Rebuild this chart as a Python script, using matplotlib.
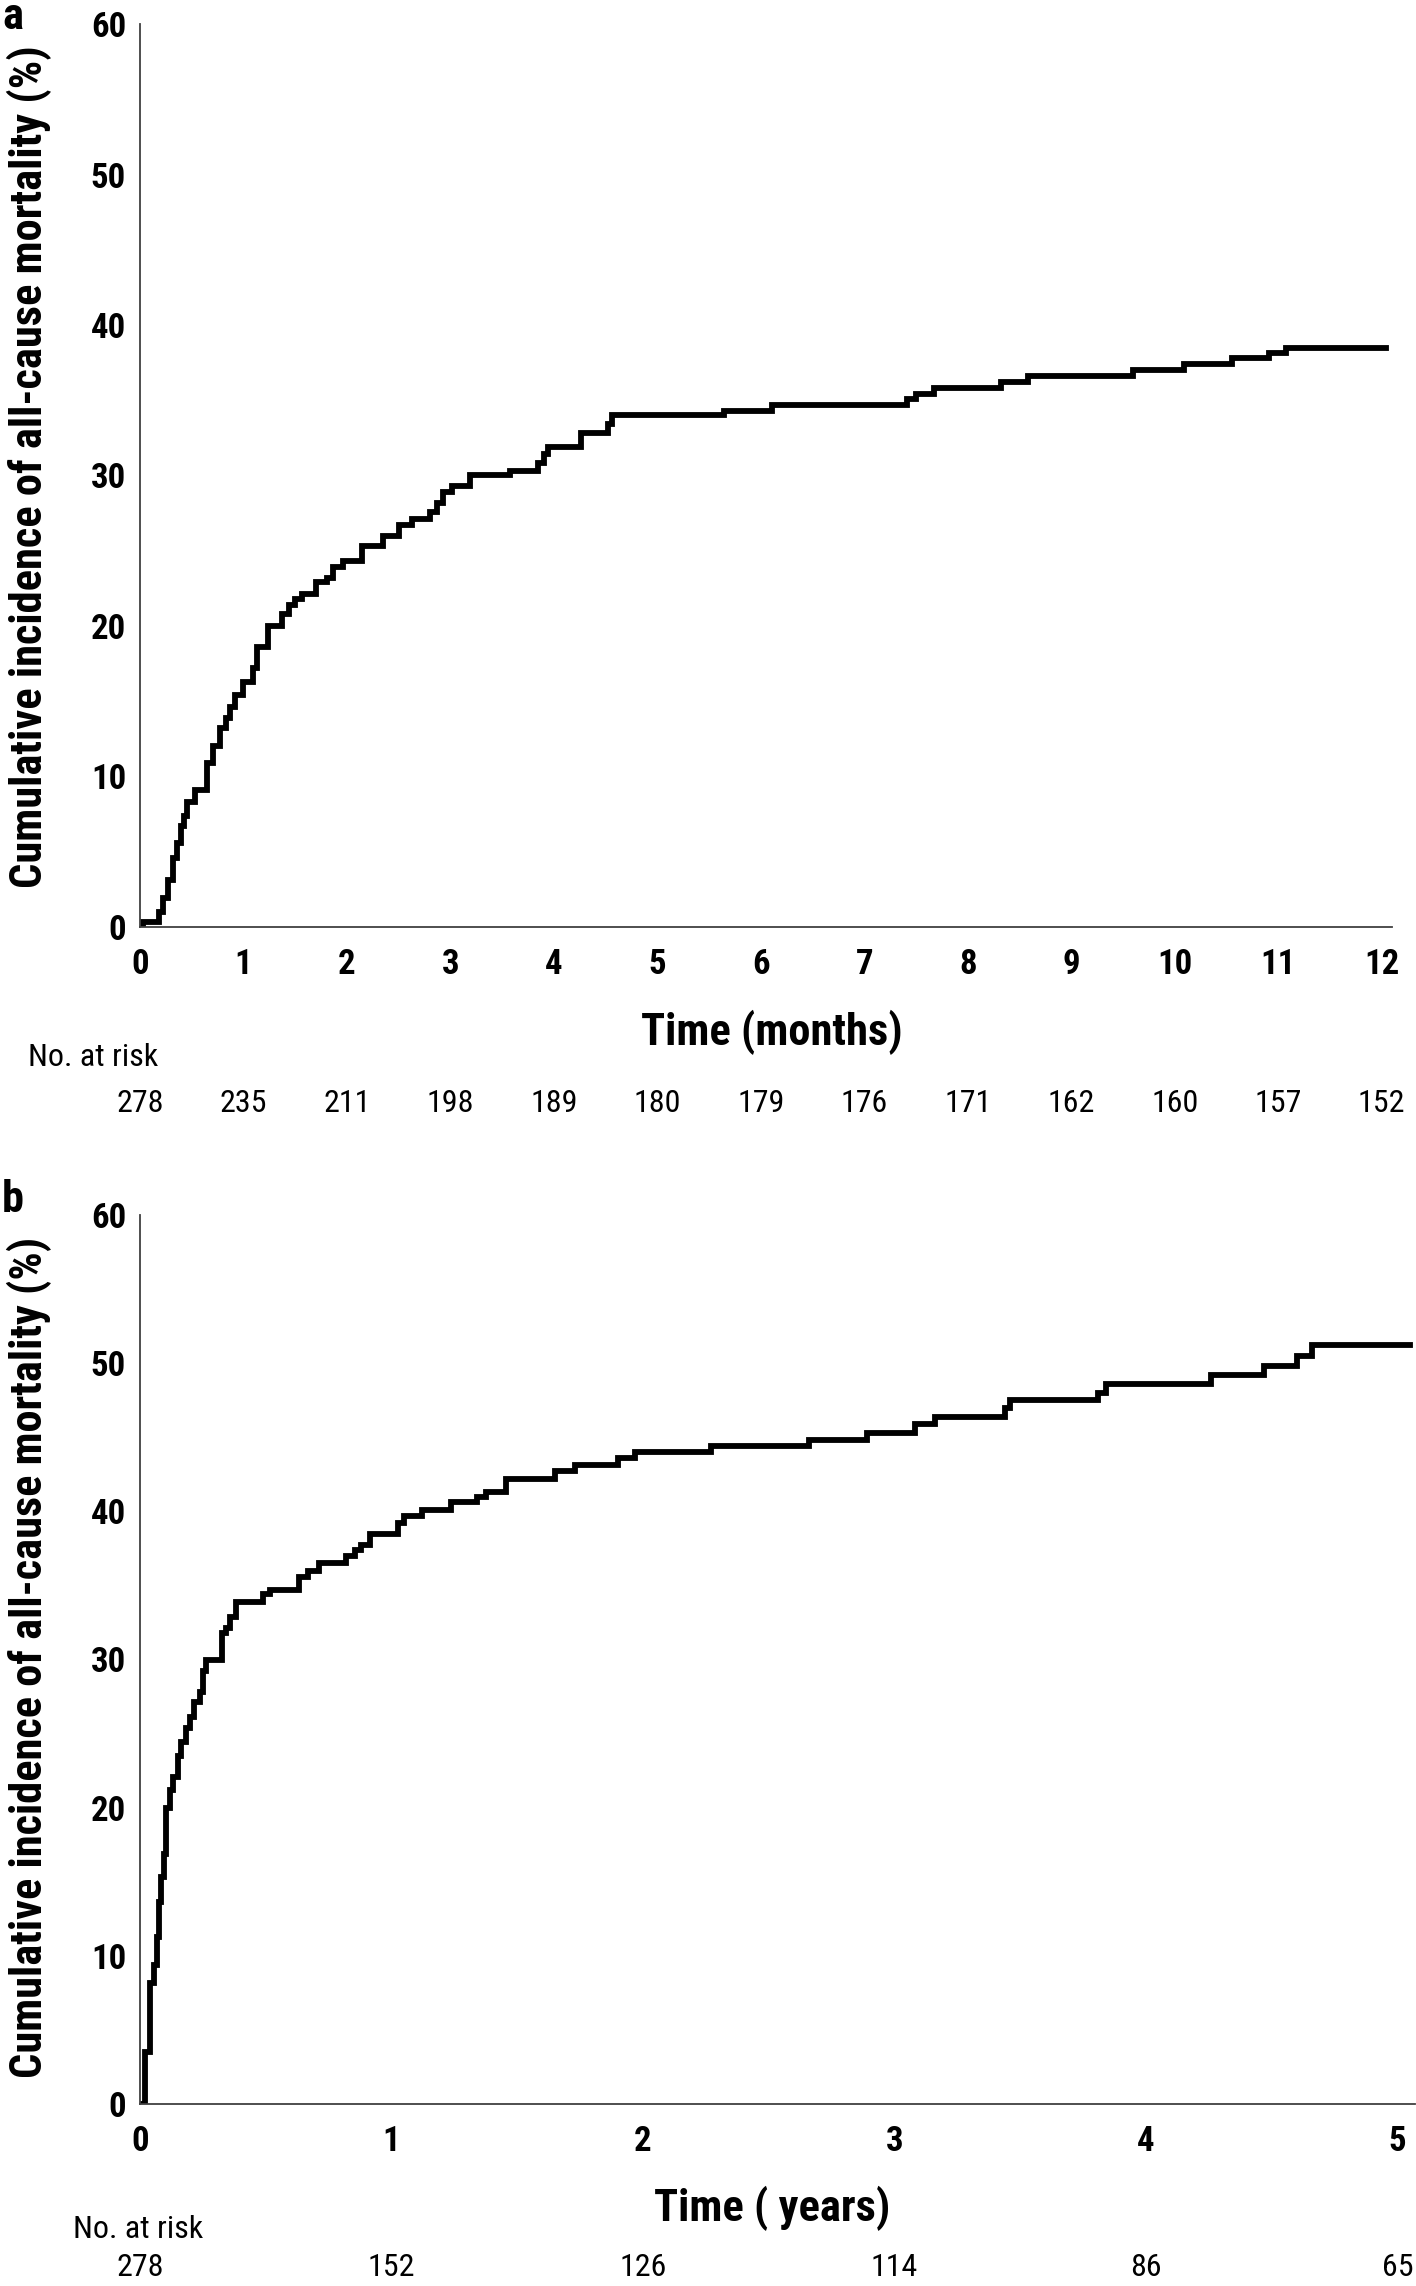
import matplotlib
matplotlib.use("Agg")
import matplotlib.pyplot as plt
from matplotlib.transforms import blended_transform_factory

plt.rcParams['font.family'] = ['Roboto Condensed', 'Lato', 'DejaVu Sans']

# Panel a: first year, months
months_a = [0, 0.03, 0.18, 0.225, 0.27, 0.32, 0.355, 0.40, 0.43, 0.45,
            0.53, 0.645, 0.71, 0.77, 0.83, 0.87, 0.92, 1.0, 1.09, 1.13,
            1.24, 1.37, 1.44, 1.50, 1.57, 1.70, 1.81, 1.87, 1.96, 2.15,
            2.35, 2.50, 2.63, 2.80, 2.87, 2.93, 3.02, 3.19, 3.58, 3.85,
            3.90, 3.94, 4.26, 4.52, 4.56, 5.64, 6.11, 7.41, 7.50, 7.67,
            8.32, 8.58, 9.60, 10.09, 10.55, 10.91, 11.08, 12.04]
incidence_a = [0, 0.3, 1.0, 1.9, 3.1, 4.6, 5.6, 6.7, 7.4, 8.3,
               9.1, 10.9, 12.0, 13.2, 13.9, 14.6, 15.4, 16.3, 17.2, 18.6,
               20.0, 20.8, 21.4, 21.8, 22.1, 22.9, 23.2, 23.9, 24.3, 25.3,
               26.0, 26.7, 27.1, 27.6, 28.2, 28.9, 29.3, 30.0, 30.3, 30.8,
               31.4, 31.9, 32.8, 33.4, 34.0, 34.3, 34.7, 35.1, 35.4, 35.8,
               36.2, 36.6, 37.0, 37.4, 37.8, 38.15, 38.5, 38.5]
ticks_a = list(range(0, 13))
at_risk_a = [278, 235, 211, 198, 189, 180, 179, 176, 171, 162, 160, 157, 152]

# Panel b: five years
years_b = [0, 0.021, 0.039, 0.057, 0.066, 0.074, 0.083, 0.097, 0.105, 0.119,
           0.133, 0.151, 0.163, 0.181, 0.198, 0.216, 0.237, 0.252, 0.264, 0.326,
           0.340, 0.358, 0.381, 0.491, 0.517, 0.632, 0.668, 0.712, 0.818, 0.854,
           0.880, 0.916, 1.027, 1.049, 1.120, 1.235, 1.341, 1.376, 1.456, 1.651,
           1.731, 1.899, 1.970, 2.27, 2.66, 2.89, 3.08, 3.16, 3.44, 3.46,
           3.81, 3.84, 4.26, 4.47, 4.60, 4.66, 5.05]
incidence_b = [0, 3.5, 8.2, 9.4, 11.3, 13.6, 15.3, 16.9, 20.0, 21.2,
               22.1, 23.5, 24.4, 25.4, 26.1, 27.1, 27.8, 29.2, 30.0, 31.8,
               32.1, 32.9, 33.9, 34.4, 34.7, 35.6, 36.0, 36.5, 37.0, 37.4,
               37.75, 38.5, 39.2, 39.7, 40.1, 40.6, 41.0, 41.3, 42.2, 42.7,
               43.1, 43.6, 44.0, 44.4, 44.8, 45.3, 45.9, 46.4, 47.0, 47.5,
               48.0, 48.6, 49.2, 49.8, 50.5, 51.2, 51.2]
ticks_b = list(range(0, 6))
at_risk_b = [278, 152, 126, 114, 86, 65]

W, H = 1416, 2286
fig = plt.figure(figsize=(W / 100, H / 100), dpi=100)
renderer = fig.canvas.get_renderer()

ylab = "Cumulative incidence of all-cause mortality (%)"


def fit_text(t, target_px, horizontal=True):
    # shrink a text so its drawn length matches the reference
    bb = t.get_window_extent(renderer)
    size = bb.width if horizontal else bb.height
    if size > target_px:
        t.set_fontsize(t.get_fontsize() * target_px / size)


def panel(rect, t, y, xmax, ticks, risk, xlabel, letter, letter_y,
          xlab_y, risk_lab_x, risk_lab_y, risk_y, ylab_y, ylab_len):
    ax = fig.add_axes(rect)
    ax.step(t, y, where="post", color="black", lw=4.2, solid_joinstyle="miter")
    ax.set_xlim(0, xmax)
    ax.set_ylim(0, 60)
    ax.set_xticks(ticks)
    ax.set_yticks(range(0, 61, 10))
    for s in ["top", "right"]:
        ax.spines[s].set_visible(False)
    for s in ["left", "bottom"]:
        ax.spines[s].set_color("#404040")
        ax.spines[s].set_linewidth(1.3)
    ax.tick_params(length=0, labelsize=25)
    ax.tick_params(axis="x", pad=15)
    ax.tick_params(axis="y", pad=10)
    for lbl in ax.get_xticklabels() + ax.get_yticklabels():
        lbl.set_fontweight("bold")

    yl = fig.text(29 / W, 1 - ylab_y / H, ylab, rotation=90, ha="center",
                  va="center", fontsize=32, fontweight="bold")
    fit_text(yl, ylab_len, horizontal=False)
    fig.text(2 / W, 1 - letter_y / H, letter, ha="left", va="center",
             fontsize=32, fontweight="bold")
    xl = fig.text(772 / W, 1 - xlab_y / H, xlabel, ha="center", va="center",
                  fontsize=32, fontweight="bold")
    fit_text(xl, 265)
    rl = fig.text(risk_lab_x / W, 1 - risk_lab_y / H, "No. at risk", ha="left",
                  va="center", fontsize=23)
    fit_text(rl, 133)
    tr = blended_transform_factory(ax.transData, fig.transFigure)
    for x, n in zip(ticks, risk):
        ax.text(x, 1 - risk_y / H, str(n), transform=tr, ha="center",
                va="center", fontsize=23, clip_on=False)
    return ax


panel([140 / W, 1 - 927 / H, 1252 / W, 903 / H], months_a, incidence_a, 12.1,
      ticks_a, at_risk_a, "Time (months)", "a", 17, 1032, 28, 1058, 1104, 467, 875)
panel([140 / W, 1 - 2104 / H, 1275 / W, 889 / H], years_b, incidence_b, 5.07,
      ticks_b, at_risk_b, "Time ( years)", "b", 1200, 2208, 73, 2230, 2268, 1657, 842)

fig.savefig("out.png", dpi=100)
